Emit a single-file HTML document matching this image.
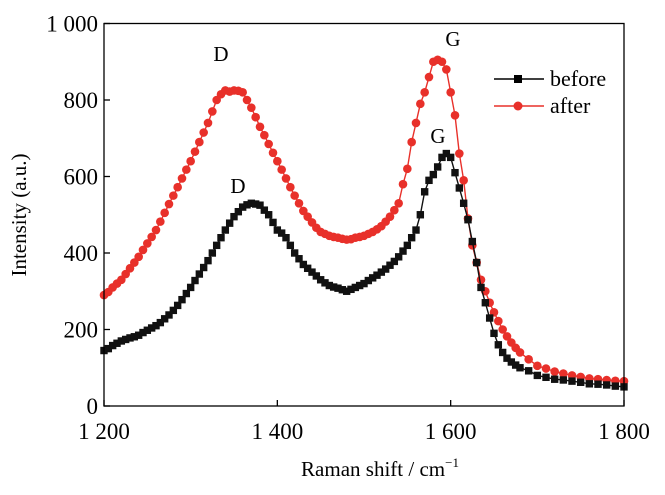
<!DOCTYPE html>
<html><head><meta charset="utf-8"><style>
body{margin:0;background:#fff;}
svg text{font-family:"Liberation Serif",serif;}
</style></head><body>
<svg id="chart" width="665" height="490" viewBox="0 0 665 490" xmlns="http://www.w3.org/2000/svg">
<g id="marks"></g>
<rect x="104" y="23.5" width="520" height="382.5" fill="none" stroke="#000" stroke-width="1.3"/>
<g id="axes"></g>
<text transform="translate(26,215) rotate(-90)" text-anchor="middle" font-size="21">Intensity  (a.u.)</text>
<text x="380" y="476" text-anchor="middle" font-size="21">Raman shift / cm<tspan font-size="13" dy="-9">−1</tspan></text>
<text x="221" y="61" text-anchor="middle" font-size="21">D</text>
<text x="453" y="46" text-anchor="middle" font-size="21">G</text>
<text x="238" y="193" text-anchor="middle" font-size="21">D</text>
<text x="438" y="143" text-anchor="middle" font-size="21">G</text>
<g>
<line x1="494" y1="79" x2="544" y2="79" stroke="#000" stroke-width="1.5"/>
<rect x="514" y="75" width="8" height="8" fill="#000"/>
<text x="550" y="86" font-size="22">before</text>
<line x1="494" y1="106" x2="544" y2="106" stroke="#e8302a" stroke-width="1.5"/>
<circle cx="518" cy="106" r="4.5" fill="#e8302a"/>
<text x="550" y="113" font-size="22">after</text>
</g>
</svg>
<script>
const xTicks=[1200,1400,1600,1800];
const xTickLabels=["1 200","1 400","1 600","1 800"];
const yTicks=[0,200,400,600,800,1000];
const yTickLabels=["0","200","400","600","800","1 000"];
const beforeX=[1200,1205,1210,1215,1220,1225,1230,1235,1240,1245,1250,1255,1260,1265,1270,1275,1280,1285,1290,1295,1300,1305,1310,1315,1320,1325,1330,1335,1340,1345,1350,1355,1360,1365,1370,1375,1380,1385,1390,1395,1400,1405,1410,1415,1420,1425,1430,1435,1440,1445,1450,1455,1460,1465,1470,1475,1480,1485,1490,1495,1500,1505,1510,1515,1520,1525,1530,1535,1540,1545,1550,1555,1560,1565,1570,1575,1580,1585,1590,1595,1600,1605,1610,1615,1620,1625,1630,1635,1640,1645,1650,1655,1660,1665,1670,1675,1680,1690,1700,1710,1720,1730,1740,1750,1760,1770,1780,1790,1800];
const beforeY=[145,150,158,164,170,174,178,181,185,192,198,204,210,218,228,238,250,263,278,294,310,328,345,362,380,400,420,440,460,478,495,508,520,526,530,528,525,512,500,480,460,452,440,420,400,385,370,360,350,340,330,322,315,311,308,304,300,305,310,315,320,328,335,342,350,358,368,378,390,405,420,440,460,500,560,590,605,625,650,660,650,610,570,530,487,430,375,310,270,230,190,160,140,125,115,107,100,92,80,75,70,68,65,62,58,57,55,52,50];
const afterX=[1200,1205,1210,1215,1220,1225,1230,1235,1240,1245,1250,1255,1260,1265,1270,1275,1280,1285,1290,1295,1300,1305,1310,1315,1320,1325,1330,1335,1340,1345,1350,1355,1360,1365,1370,1375,1380,1385,1390,1395,1400,1405,1410,1415,1420,1425,1430,1435,1440,1445,1450,1455,1460,1465,1470,1475,1480,1485,1490,1495,1500,1505,1510,1515,1520,1525,1530,1535,1540,1545,1550,1555,1560,1565,1570,1575,1580,1585,1590,1595,1600,1605,1610,1615,1620,1625,1630,1635,1640,1645,1650,1655,1660,1665,1670,1675,1680,1690,1700,1710,1720,1730,1740,1750,1760,1770,1780,1790,1800];
const afterY=[290,298,310,320,330,345,360,375,390,408,425,442,460,482,505,528,550,572,595,618,640,665,690,715,740,770,800,815,825,822,825,824,820,800,780,755,730,708,685,662,640,618,595,572,550,530,510,495,480,466,455,450,445,442,440,437,435,436,440,442,445,450,455,462,470,482,495,512,530,580,620,690,740,790,820,860,900,905,900,880,820,760,660,590,490,420,375,330,300,270,245,222,200,182,166,152,140,122,105,98,90,85,80,76,72,70,68,66,65];
const NS="http://www.w3.org/2000/svg";
const X0=104,X1=624,Y0=406,Y1=23.5;
function sx(v){return X0+(v-1200)/600*(X1-X0);}
function sy(v){return Y0-(v/1000)*(Y0-Y1);}
const marks=document.getElementById('marks');
const axes=document.getElementById('axes');
function mk(tag,attrs,parent){const e=document.createElementNS(NS,tag);for(const k in attrs)e.setAttribute(k,attrs[k]);parent.appendChild(e);return e;}
xTicks.forEach((t,i)=>{
 const l=mk('line',{x1:sx(t),x2:sx(t),y1:Y0,y2:Y0-6,stroke:'#000','stroke-width':1.3},axes);
 
 
 const tx=mk('text',{x:sx(t),y:Y0+33,'text-anchor':'middle','font-size':23},axes);
 tx.textContent=xTickLabels[i];
 
 
});
yTicks.forEach((t,i)=>{
 const l=mk('line',{x1:X0,x2:X0+6,y1:sy(t),y2:sy(t),stroke:'#000','stroke-width':1.3},axes);
 
 
 const tx=mk('text',{x:X0-6,y:sy(t)+8,'text-anchor':'end','font-size':23},axes);
 tx.textContent=yTickLabels[i];
 
 
});
function series(xs,ys,color,name,sq){
 const p=mk('polyline',{points:xs.map((x,i)=>sx(x)+','+sy(ys[i])).join(' '),fill:'none',stroke:color,'stroke-width':1.4},marks);
 
 
 xs.forEach((x,i)=>{
  let m;
  if(sq) m=mk('rect',{x:sx(x)-3.7,y:sy(ys[i])-3.7,width:7.4,height:7.4,fill:color},marks);
  else m=mk('circle',{cx:sx(x),cy:sy(ys[i]),r:4.3,fill:color},marks);
  
  
 });
}
series(afterX,afterY,'#e8302a','after',false);
series(beforeX,beforeY,'#111','before',true);
</script>
</body></html>
